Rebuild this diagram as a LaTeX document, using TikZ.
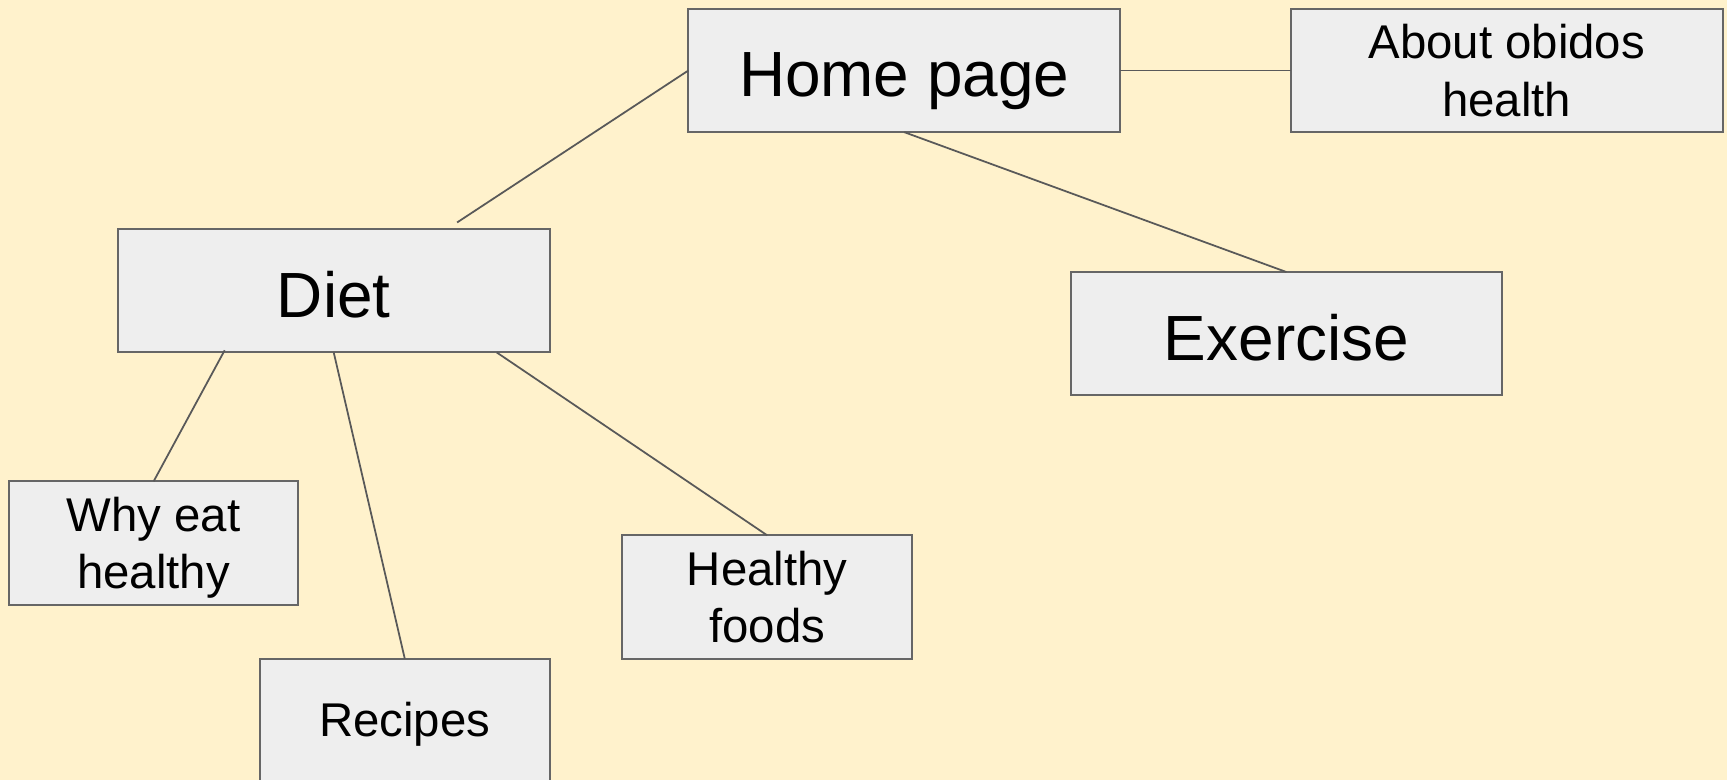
\documentclass[tikz,border=0pt]{standalone}
\usepackage{fontspec}
\setmainfont{Liberation Sans}
\usetikzlibrary{calc}
\definecolor{bgyellow}{HTML}{FFF2CC}
\definecolor{boxfill}{HTML}{EEEEEE}
\definecolor{boxline}{HTML}{666666}
\definecolor{linkline}{HTML}{595959}
\newcommand{\nodepth}[1]{\raisebox{0pt}[\height][0pt]{#1}}
\tikzset{
  bigbox/.style={draw=boxline, line width=1.8pt, fill=boxfill, inner sep=0pt, outer sep=0pt,
    minimum width=392pt, minimum height=112pt, text height=48pt, text depth=0pt,
    font=\fontsize{58}{67}\selectfont},
  smallbox/.style={draw=boxline, line width=1.8pt, fill=boxfill, inner sep=0pt, outer sep=0pt,
    minimum width=263pt, minimum height=112pt, align=center, font=\fontsize{43}{52}\selectfont},
  oneline/.style={text height=30pt, text depth=0pt},
  wide2box/.style={smallbox, minimum width=392pt},
  link/.style={draw=linkline, line width=1.6pt}
}
\begin{document}
\begin{tikzpicture}[x=1pt,y=-1pt]
\fill[bgyellow] (0,0) rectangle (1568,708);
\useasboundingbox (0,0) rectangle (1568,708);
\clip (0,0) rectangle (1568,708);
\node[bigbox] (home) at (821,64) {Home page};
\node[wide2box] (about) at (1368,64) {About obidos\\health};
\node[bigbox] (diet) at (303,264) {Diet};
\node[bigbox] (exercise) at (1168,303) {Exercise};
\node[smallbox] (why) at (139.5,493) {Why eat\\\nodepth{healthy}};
\node[smallbox, oneline] (recipes) at (367.5,654) {Recipes};
\node[smallbox] (foods) at (696.5,542) {Healthy\\foods};
\coordinate (dtop) at (415,202);
\coordinate (dleft) at (204,318);
\coordinate (dright) at (451,320);
\draw[link] (home.west) -- (dtop);
\draw[link] (home.east) -- (about.west);
\draw[link] (home.south) -- (exercise.north);
\draw[link] (dleft) -- (why.north);
\draw[link] (diet.south) -- (recipes.north);
\draw[link] (dright) -- (foods.north);
\end{tikzpicture}
\end{document}
